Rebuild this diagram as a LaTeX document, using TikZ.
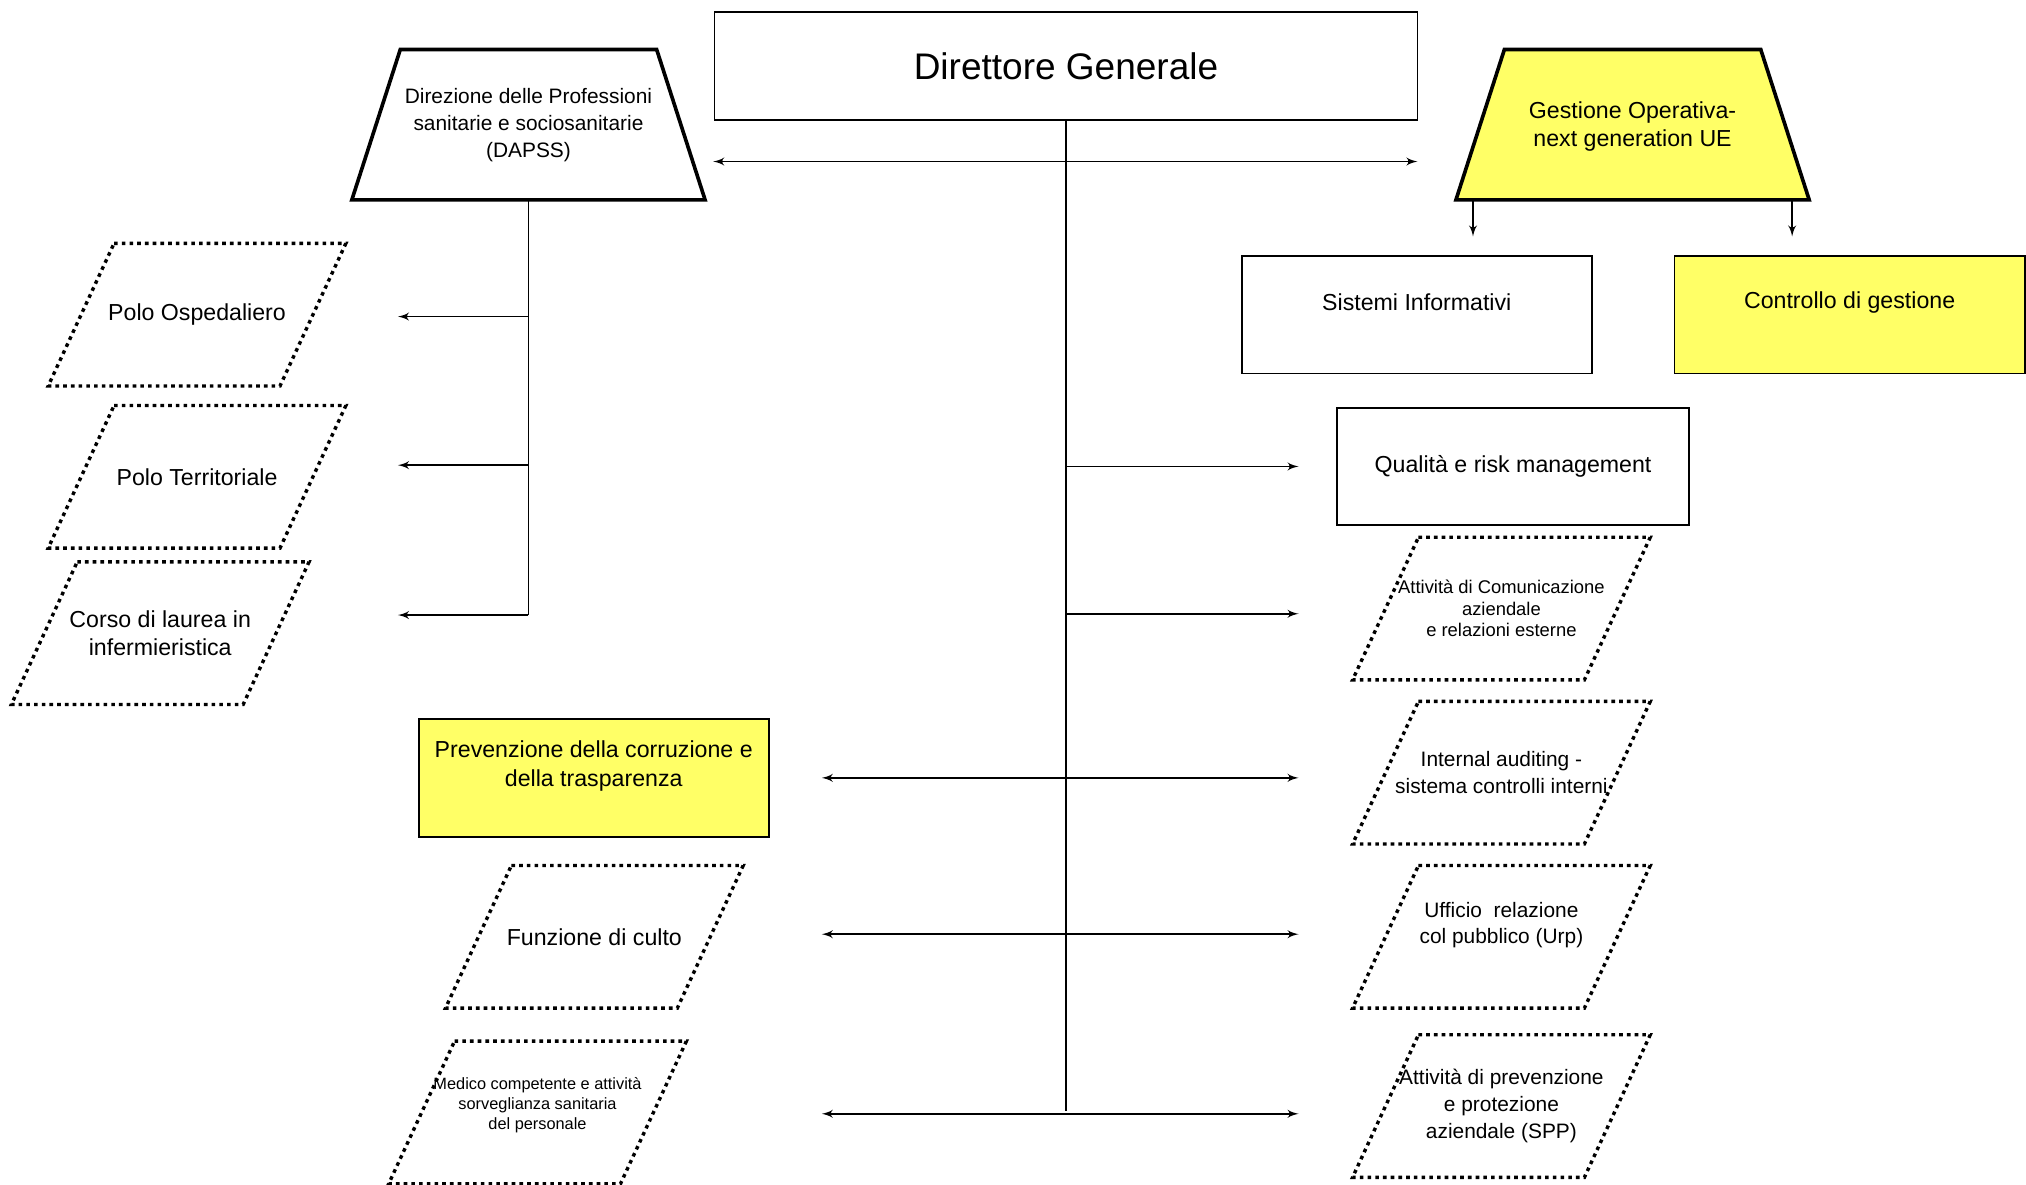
\documentclass[tikz,border=0pt]{standalone}
\usepackage{fontspec}
\setmainfont{Liberation Sans}
\usetikzlibrary{arrows}
\definecolor{gelb}{HTML}{FFFF66}
\newcommand{\fsbig}{\fontsize{16.3}{19.5}\selectfont}
\newcommand{\fsnorm}{\fontsize{10.2}{12.6}\selectfont}
\newcommand{\fssmall}{\fontsize{9.2}{11.8}\selectfont}
\newcommand{\fstiny}{\fontsize{8.1}{9.4}\selectfont}
\newcommand{\fsmini}{\fontsize{7.2}{8.8}\selectfont}
\tikzset{edge/.style = {->,> = latex', line width=0.7pt}}
\tikzset{
  box/.style = {draw, line width=0.8pt, minimum width=54.2mm, minimum height=18.2mm, inner sep=0pt},
  yellow box/.style = {box, fill=gelb},
  dir line/.style = {line width=1.6pt},
  dir node/.style = {minimum width=54.4mm, minimum height=23mm, inner sep=0pt,
    append after command={\pgfextra{\draw[dir line, fill=#1]
      ([xshift=7.5mm]\tikzlastnode.north west) -- ([xshift=-7.5mm]\tikzlastnode.north east) --
      (\tikzlastnode.south east) -- (\tikzlastnode.south west) -- cycle;}}},
  dir node/.default = white,
  staff line/.style = {line width=1.5pt, dash pattern=on 1.6pt off 1.8pt},
  staff node/.style = {minimum width=35.6mm, minimum height=21.8mm, align=center, inner sep=0pt,
    append after command={\pgfextra{\draw[staff line]
      ([xshift=5.1mm]\tikzlastnode.north west) -- ([xshift=5.1mm]\tikzlastnode.north east) --
      ([xshift=-5.1mm]\tikzlastnode.south east) -- ([xshift=-5.1mm]\tikzlastnode.south west) -- cycle;}}}
}

\begin{document}
\begin{tikzpicture}[x=0.2mm, y=-0.2mm, line width=0.8pt]
  \useasboundingbox (0,0) rectangle (1568,917);

  % vertice
  \node[box, minimum width=108.8mm, minimum height=16.8mm, font=\fsbig] (dg) at (825,51) {Direttore Generale};
  \node[dir node] (dapss) at (409,96.5) {};
  \node[font=\fssmall, align=center] (dapssT) at (409,97) {Direzione delle Professioni\\sanitarie e sociosanitarie\\(DAPSS)};
  \node[dir node=gelb] (gest) at (1263.5,96.5) {};
  \node[font=\fsnorm, align=center] (gestT) at (1263.5,98) {Gestione Operativa-\\next generation UE};

  % colonna sinistra
  \node[staff node, font=\fsnorm] (osp) at (152.5,243.5) {Polo Ospedaliero};
  \node[staff node, font=\fsnorm] (terr) at (152.5,369) {Polo Territoriale};
  \node[staff node, font=\fsnorm] (corso) at (124,490) {Corso di laurea in\\infermieristica};
  \node[yellow box] (prev) at (459.5,602) {};
  \node[font=\fsnorm, align=center] (prevT) at (459.5,593) {Prevenzione della corruzione e\\della trasparenza};
  \node[staff node, font=\fsnorm] (culto) at (460,725) {Funzione di culto};
  \node[staff node] (medico) at (416,861) {};
  \node[font=\fsmini, align=center] (medicoT) at (416,855) {Medico competente e attività\\sorveglianza sanitaria\\del personale};

  % colonna destra
  \node[box] (sis) at (1096.5,243.5) {};
  \node[font=\fsnorm] (sisT) at (1096.5,234) {Sistemi Informativi};
  \node[yellow box] (cdg) at (1431.5,243.5) {};
  \node[font=\fsnorm] (cdgT) at (1431.5,234) {Controllo di gestione};
  \node[box, minimum width=54.4mm, minimum height=18mm, font=\fsnorm] (qual) at (1171,361) {Qualità e risk management};
  \node[staff node, font=\fstiny] (com) at (1162,471) {Attività di Comunicazione\\aziendale\\e relazioni esterne};
  \node[staff node, font=\fssmall] (audit) at (1162,598) {Internal auditing -\\sistema controlli interni};
  \node[staff node] (urp) at (1162,725) {};
  \node[font=\fssmall, align=center] (urpT) at (1162,716) {Ufficio\ \ relazione\\col pubblico (Urp)};
  \node[staff node, font=\fssmall] (spp) at (1162,856) {Attività di prevenzione\\e protezione\\aziendale (SPP)};

  % collegamenti
  \coordinate (s0) at (825,860);
  \draw (dg.south) -- (s0);
  \coordinate (hl) at (552,125);
  \coordinate (hr) at (1097,125);
  \draw[edge, <->] (hl) -- (hr);
  \foreach \y/\n in {361/1,475/2,602/3,723/4,862/5} {
    \coordinate (sr\n) at (825,\y);
    \coordinate (r\n) at (1005,\y);
    \draw[edge] (sr\n) -- (r\n);
  }
  \foreach \y/\n in {602/1,723/2,862/3} {
    \coordinate (sl\n) at (825,\y);
    \coordinate (l\n) at (636,\y);
    \draw[edge] (sl\n) -- (l\n);
  }
  \coordinate (d0) at (409,476);
  \draw (dapss.south) -- (d0);
  \foreach \y/\n in {245/1,360/2,476/3} {
    \coordinate (sd\n) at (409,\y);
    \coordinate (ld\n) at (308,\y);
    \draw[edge] (sd\n) -- (ld\n);
  }
  \coordinate (g1) at (1140,154);
  \coordinate (g1e) at (1140,183);
  \coordinate (g2) at (1387,154);
  \coordinate (g2e) at (1387,183);
  \draw[edge] (g1) -- (g1e);
  \draw[edge] (g2) -- (g2e);
\end{tikzpicture}
\end{document}
